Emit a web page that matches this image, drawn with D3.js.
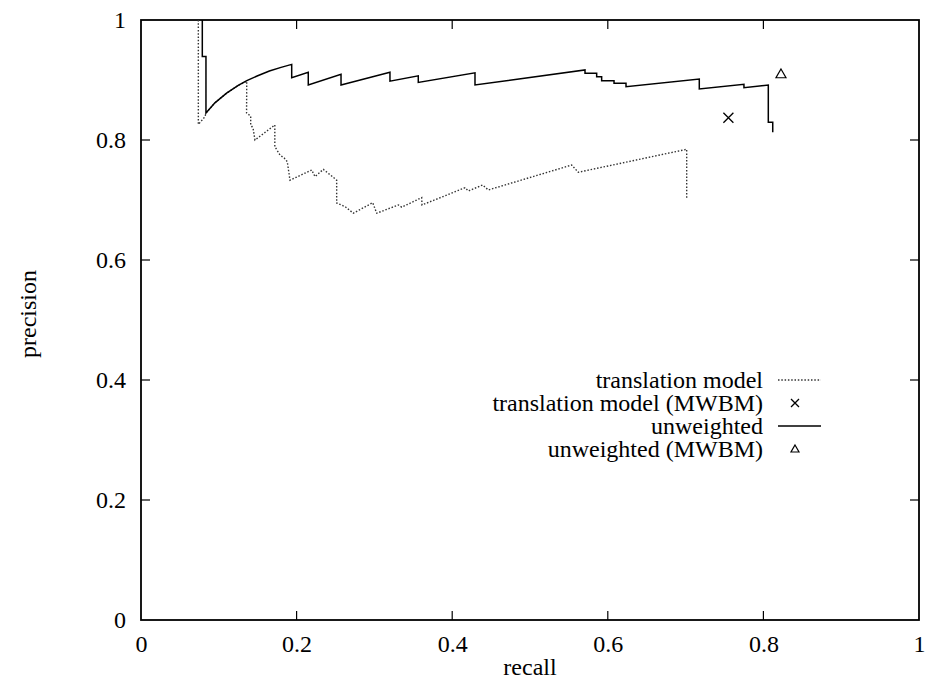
<!DOCTYPE html>
<html><head><meta charset="utf-8">
<script src="https://cdn.jsdelivr.net/npm/d3@7"></script>
<style>body{margin:0;background:#fff}svg{display:block}text{font-family:"Liberation Serif","Times New Roman",serif;fill:#000}</style>
</head><body>
<script>
// ---- data ----
const xTicks = [0, 0.2, 0.4, 0.6, 0.8, 1];
const yTicks = [0, 0.2, 0.4, 0.6, 0.8, 1];
const tickLabels = ["0", "0.2", "0.4", "0.6", "0.8", "1"];

const translationRecall = [0.0737,0.0737,0.0823,0.0835,0.095,0.11,0.125,0.1359,0.1357,0.141,0.141,0.144,0.1465,0.172,0.172,0.1787,0.184,0.188,0.1915,0.2194,0.2237,0.2343,0.2451,0.2515,0.2515,0.2622,0.2729,0.2978,0.303,0.3307,0.3351,0.3608,0.3612,0.4165,0.4207,0.4392,0.4464,0.5536,0.5621,0.7014,0.7014];
const translationPrecision = [1.0,0.826,0.839,0.845,0.862,0.878,0.891,0.898,0.845,0.84,0.825,0.82,0.80,0.825,0.789,0.775,0.77,0.764,0.733,0.75,0.739,0.751,0.74,0.733,0.695,0.689,0.678,0.6955,0.678,0.6917,0.688,0.704,0.6917,0.7205,0.715,0.725,0.7167,0.7583,0.7462,0.7845,0.703];

const unweightedRecall = [0.0788,0.0788,0.0835,0.0835,0.095,0.11,0.125,0.136,0.15,0.165,0.18,0.1937,0.1937,0.215,0.215,0.2571,0.2571,0.32,0.32,0.3564,0.3564,0.4293,0.4293,0.5707,0.5707,0.5857,0.5857,0.5921,0.5921,0.608,0.608,0.6234,0.6234,0.7176,0.7176,0.775,0.775,0.8063,0.8063,0.812,0.812];
const unweightedPrecision = [1.0,0.939,0.939,0.845,0.862,0.878,0.891,0.899,0.907,0.915,0.921,0.926,0.904,0.9128,0.8917,0.9095,0.8917,0.9128,0.898,0.907,0.896,0.912,0.8917,0.9167,0.9112,0.9112,0.9055,0.9055,0.8988,0.8988,0.8945,0.8945,0.8888,0.9017,0.885,0.8928,0.8872,0.8917,0.8295,0.8295,0.8128];

const mwbmNames = ["translation model (MWBM)", "unweighted (MWBM)"];
const mwbmRecall = [0.755, 0.8226];
const mwbmPrecision = [0.837, 0.91];

const legendLabels = ["translation model", "translation model (MWBM)", "unweighted", "unweighted (MWBM)"];

// ---- chart ----
const W = 925, H = 681;
const m = {left: 141, right: 6, top: 20, bottom: 61};
const svg = d3.select("body").append("svg").attr("width", W).attr("height", H);
const x = d3.scaleLinear().domain([0, 1]).range([m.left, W - m.right]);
const y = d3.scaleLinear().domain([0, 1]).range([H - m.bottom, m.top]);
const FS = 24;

const tickLen = 9;
const axB = d3.axisBottom(x).tickValues(xTicks).tickSize(0).tickFormat((d,i)=>tickLabels[i]);
const axL = d3.axisLeft(y).tickValues(yTicks).tickSize(0).tickFormat((d,i)=>tickLabels[i]);

const gB = svg.append("g").attr("transform", `translate(0,${y(0)})`).call(axB);
gB.select(".domain").remove();
gB.selectAll("text").attr("font-size", FS).attr("dy", null).attr("y", 32).attr("font-family","Liberation Serif");
const gL = svg.append("g").attr("transform", `translate(${x(0)},0)`).call(axL);
gL.select(".domain").remove();
gL.selectAll("text").attr("font-size", FS).attr("x", -15).attr("dy", "0.33em").attr("font-family","Liberation Serif");

// inward ticks on all four sides
const tk = svg.append("g").attr("stroke", "#000").attr("stroke-width", 1.2);
xTicks.slice(1, -1).forEach(v => {
  tk.append("line").attr("x1", x(v)).attr("x2", x(v)).attr("y1", y(0)).attr("y2", y(0) - tickLen);
  tk.append("line").attr("x1", x(v)).attr("x2", x(v)).attr("y1", y(1)).attr("y2", y(1) + tickLen);
});
yTicks.slice(1, -1).forEach(v => {
  tk.append("line").attr("y1", y(v)).attr("y2", y(v)).attr("x1", x(0)).attr("x2", x(0) + tickLen);
  tk.append("line").attr("y1", y(v)).attr("y2", y(v)).attr("x1", x(1)).attr("x2", x(1) - tickLen);
});
svg.append("rect").attr("x", x(0)).attr("y", y(1)).attr("width", x(1) - x(0)).attr("height", y(0) - y(1))
  .attr("fill", "none").attr("stroke", "#000").attr("stroke-width", 1.8);

// axis titles
svg.append("text").attr("x", x(0.5)).attr("y", 675).attr("text-anchor", "middle").attr("font-size", FS).text("recall");
svg.append("text").attr("transform", "translate(36,314) rotate(-90)").attr("text-anchor", "middle").attr("font-size", FS).text("precision");

// lines
const line = d3.line().x(d => x(d[0])).y(d => y(d[1]));
const tData = translationRecall.map((r, i) => [r, translationPrecision[i]]);
const uData = unweightedRecall.map((r, i) => [r, unweightedPrecision[i]]);
svg.append("path").datum(tData).attr("d", line).attr("fill", "none").attr("stroke", "#333")
  .attr("stroke-width", 1.4).attr("stroke-dasharray", "1.5,1.8");
svg.append("path").datum(uData).attr("d", line).attr("fill", "none").attr("stroke", "#000")
  .attr("stroke-width", 1.5);

// markers
function cross(g, cx, cy, s) {
  g.append("path").attr("d", `M${cx-s},${cy-s}L${cx+s},${cy+s}M${cx-s},${cy+s}L${cx+s},${cy-s}`)
    .attr("stroke", "#000").attr("stroke-width", 1.3).attr("fill", "none");
}
function tri(g, cx, cy, s) {
  g.append("path").attr("d", `M${cx},${cy-s}L${cx+s},${cy+s*0.75}L${cx-s},${cy+s*0.75}Z`)
    .attr("stroke", "#000").attr("stroke-width", 1.2).attr("fill", "none");
}
cross(svg, x(mwbmRecall[0]), y(mwbmPrecision[0]), 5);
tri(svg, x(mwbmRecall[1]), y(mwbmPrecision[1]), 5);

// legend
const lg = svg.append("g");
const ly0 = 380, ldy = 23, ltx = 763, lx1 = 778, lx2 = 821, lmx = 795;
legendLabels.forEach((t, i) => {
  lg.append("text").attr("x", ltx).attr("y", ly0 + i * ldy).attr("dy", "0.33em")
    .attr("text-anchor", "end").attr("font-size", FS).text(t);
});
lg.append("line").attr("x1", lx1).attr("x2", lx2).attr("y1", ly0).attr("y2", ly0)
  .attr("stroke", "#333").attr("stroke-width", 1.4).attr("stroke-dasharray", "1.5,1.8");
cross(lg, lmx, ly0 + ldy, 4);
lg.append("line").attr("x1", lx1).attr("x2", lx2).attr("y1", ly0 + 2 * ldy).attr("y2", ly0 + 2 * ldy)
  .attr("stroke", "#000").attr("stroke-width", 1.5);
tri(lg, lmx, ly0 + 3 * ldy, 4);
</script>
</body></html>
